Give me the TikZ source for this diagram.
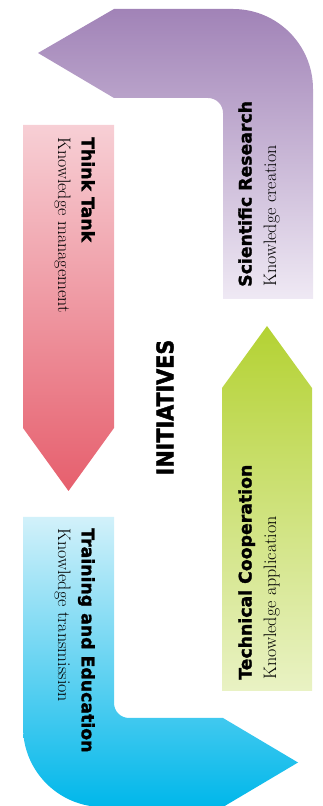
\documentclass[tikz,border=0pt]{standalone}
\usepackage{fontspec}
\setsansfont{DejaVu Sans}[BoldFeatures={FakeBold=1.6}]
\newfontfamily\headingfont{DejaVu Sans Condensed}[BoldFeatures={FakeBold=1.8}]

\definecolor{researchTop}{HTML}{A183B7}
\definecolor{researchBot}{HTML}{EFE9F4}
\definecolor{thinkTop}{HTML}{F7CFD5}
\definecolor{thinkBot}{HTML}{E65F6D}
\definecolor{coopTop}{HTML}{B4D233}
\definecolor{coopBot}{HTML}{E9F2C4}
\definecolor{trainTop}{HTML}{D2F1FA}
\definecolor{trainBot}{HTML}{00B7EA}

\begin{document}
\begin{tikzpicture}[x=1pt, y=1pt,
    title/.style={font=\sffamily\bfseries\fontsize{17.3}{20}\selectfont, inner sep=0pt},
    subtitle/.style={font=\fontsize{18}{21}\selectfont, inner sep=0pt},
    heading/.style={font=\headingfont\bfseries\fontsize{23}{26}\selectfont, inner sep=0pt, rotate=90}
]
    \useasboundingbox (0,0) rectangle (323,806);

    % arrows
    \shade[top color=researchTop, bottom color=researchBot]
        (38,753) -- (114,797) -- (233,797) arc[start angle=90, end angle=0, radius=80pt]
        -- (313,507) -- (223,507) -- (223,693) arc[start angle=0, end angle=90, radius=15pt]
        -- (114,708) -- cycle;
    \shade[top color=thinkTop, bottom color=thinkBot]
        (23,681) -- (114,681) -- (114,378) -- (68.5,315) -- (23,378) -- cycle;
    \shade[top color=coopTop, bottom color=coopBot]
        (222,115) -- (222,418) -- (267,480) -- (312,418) -- (312,115) -- cycle;
    \shade[top color=trainTop, bottom color=trainBot]
        (23,289) -- (114,289) -- (114,103) arc[start angle=180, end angle=270, radius=15pt]
        -- (223,88) -- (298,43.5) -- (223,-1) -- (103,-1) arc[start angle=270, end angle=180, radius=80pt]
        -- cycle;

    % labels
    \node[heading] (init) at (165,398.5) {INITIATIVES};

    \node[title, rotate=90, anchor=base west] (sr) at (251.5,519) {Scientific Research};
    \node[subtitle, rotate=90, anchor=base west] (srsub) at ([xshift=24.5]sr.base west) {Knowledge creation};

    \node[title, rotate=90, anchor=base west] (tc) at (251.5,126) {Technical Cooperation};
    \node[subtitle, rotate=90, anchor=base west] (tcsub) at ([xshift=24.5]tc.base west) {Knowledge application};

    \node[title, rotate=-90, anchor=base west] (tt) at (81.7,669) {Think Tank};
    \node[subtitle, rotate=-90, anchor=base west] (ttsub) at ([xshift=-23.7]tt.base west) {Knowledge management};

    \node[title, rotate=-90, anchor=base west] (te) at (81.7,278) {Training and Education};
    \node[subtitle, rotate=-90, anchor=base west] (tesub) at ([xshift=-23.7]te.base west) {Knowledge transmission};
\end{tikzpicture}
\end{document}
